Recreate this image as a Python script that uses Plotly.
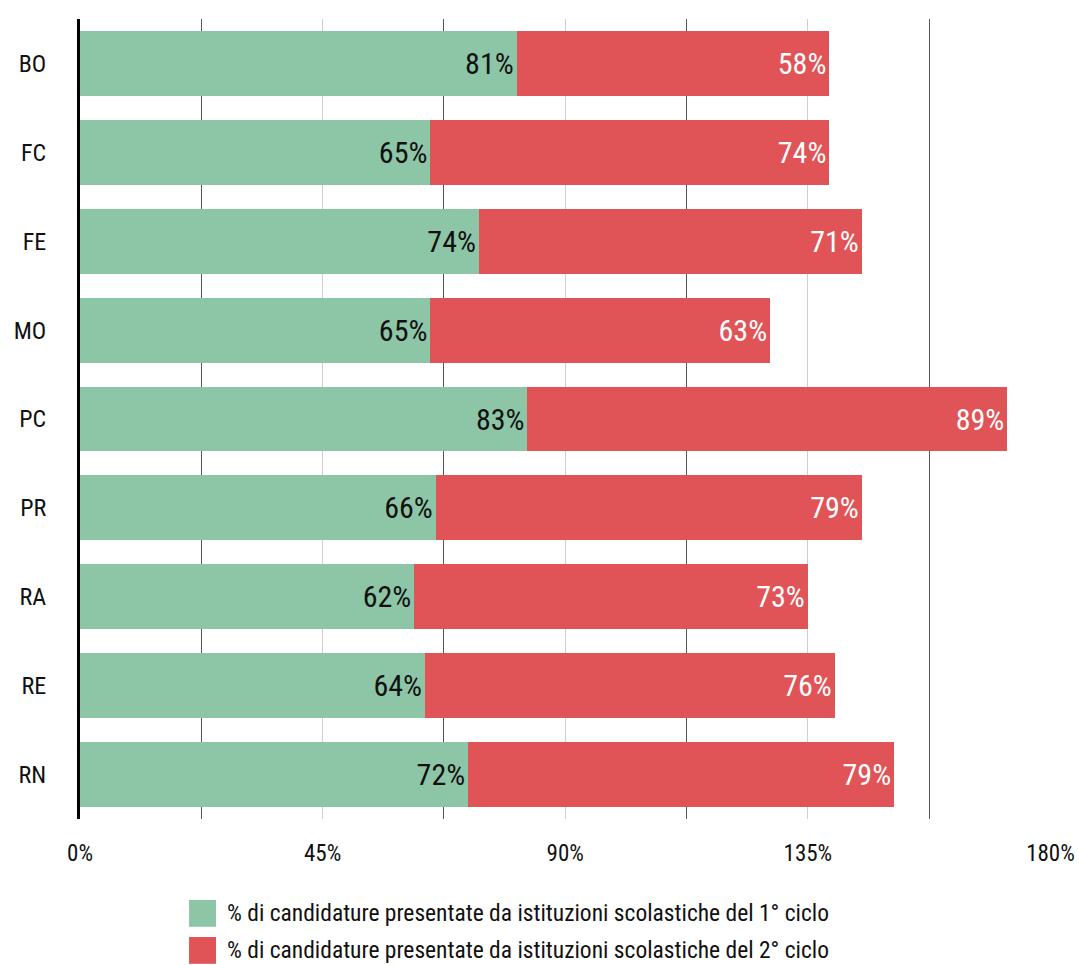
import plotly.graph_objects as go

provinces = ["BO", "FC", "FE", "MO", "PC", "PR", "RA", "RE", "RN"]
primo_ciclo = [81, 65, 74, 65, 83, 66, 62, 64, 72]
secondo_ciclo = [58, 74, 71, 63, 89, 79, 73, 76, 79]
series_names = [
    "% di candidature presentate da istituzioni scolastiche del 1° ciclo",
    "% di candidature presentate da istituzioni scolastiche del 2° ciclo",
]
x_tick_vals = [0, 45, 90, 135, 180]
x_tick_text = ["0%", "45%", "90%", "135%", "180%"]

GREEN = "#8DC6A6"
RED = "#E05457"
FONT = "Noto Sans Condensed, Noto Sans ExtraCondensed, Roboto Condensed, Roboto, sans-serif"

fig = go.Figure()
fig.add_trace(go.Bar(
    y=provinces, x=primo_ciclo, orientation="h", name=series_names[0],
    marker=dict(color=GREEN, line=dict(width=0)),
    text=[f"{v}%" for v in primo_ciclo], textposition="inside",
    insidetextanchor="end", textfont=dict(color="#111111", size=30, family=FONT),
    showlegend=False,
))
fig.add_trace(go.Bar(
    y=provinces, x=secondo_ciclo, orientation="h", name=series_names[1],
    marker=dict(color=RED, line=dict(width=0)),
    text=[f"{v}%" for v in secondo_ciclo], textposition="inside",
    insidetextanchor="end", textfont=dict(color="#ffffff", size=30, family=FONT),
    showlegend=False,
))

# custom legend (large square swatches)
legend_colors = [GREEN, RED]
legend_tops = [-0.10125, -0.1475]
for nm, col, top in zip(series_names, legend_colors, legend_tops):
    fig.add_shape(type="rect", xref="paper", yref="paper",
                  x0=0.1123, x1=0.1401, y0=top - 0.0335, y1=top,
                  fillcolor=col, line=dict(width=0))
    fig.add_annotation(xref="paper", yref="paper", x=0.1495, y=top - 0.0168,
                       text=nm, showarrow=False, xanchor="left", yanchor="middle",
                       font=dict(size=23.5, color="#111111", family=FONT))

fig.update_layout(
    barmode="stack",
    bargap=0.27,
    width=1079, height=965,
    margin=dict(l=80, r=28, t=19, b=146, autoexpand=False),
    paper_bgcolor="white", plot_bgcolor="white",
    font=dict(family=FONT, color="#111111"),
    xaxis=dict(
        range=[0, 180.1], tickvals=x_tick_vals, ticktext=x_tick_text,
        showgrid=True, gridcolor="#CFCFCF", gridwidth=1.2,
        minor=dict(dtick=22.5, tick0=0, showgrid=True, gridcolor="#555555", gridwidth=1.2),
        zeroline=False, showline=False, ticks="", automargin=False,
        tickfont=dict(size=23, color="#111111", family=FONT),
        ticklabelstandoff=18,
    ),
    yaxis=dict(
        autorange="reversed", showgrid=False, zeroline=False, automargin=False,
        showline=True, linecolor="black", linewidth=3,
        tickfont=dict(size=24, color="#111111", family=FONT),
        ticks="", ticklabelstandoff=26,
    ),
)

fig.write_html(
    "out.html",
    config={"displayModeBar": False},
    post_script="document.body.style.margin='0';document.body.style.overflow='hidden';",
)
